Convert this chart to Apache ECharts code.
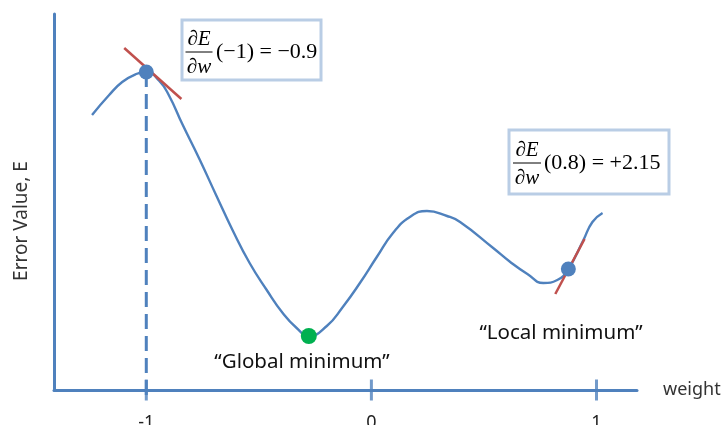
<!DOCTYPE html>
<html>
<head>
<meta charset="utf-8">
<script src="https://cdn.jsdelivr.net/npm/echarts@6/dist/echarts.min.js"></script>
<style>
  html, body { margin: 0; padding: 0; background: #fff; }
</style>
</head>
<body>
<div id="main" style="width:725px;height:425px;"></div>
<script>
// error curve E(w)
var curve = [
  [-1.241, 2.75], [-1.165, 2.95], [-1.107, 3.08], [-1.045, 3.16], [-1.000, 3.18],
  [-0.942, 3.09], [-0.898, 2.94], [-0.840, 2.66], [-0.764, 2.31], [-0.688, 1.94],
  [-0.617, 1.60], [-0.541, 1.27], [-0.465, 1.00], [-0.394, 0.77], [-0.332, 0.62],
  [-0.278, 0.54], [-0.198, 0.64], [-0.127, 0.83], [-0.051, 1.07], [0.024, 1.33],
  [0.096, 1.57], [0.171, 1.73], [0.247, 1.79], [0.336, 1.74], [0.394, 1.68],
  [0.541, 1.42], [0.617, 1.28], [0.693, 1.16], [0.764, 1.07], [0.826, 1.10],
  [0.875, 1.21], [0.942, 1.50], [0.982, 1.68], [1.027, 1.77]
];
var gradPoints = [[-1.0, 3.18], [0.875, 1.21]];
var globalMin = [[-0.278, 0.54]];
var tangent1 = [[-1.098, 3.42], [-0.844, 2.91]];
var tangent2 = [[0.817, 0.96], [0.947, 1.51]];
var dropLine = [[-1.0, 3.18], [-1.0, -0.12]];
var tickValues = [-1, 0, 1];

var blue = '#4f81bd';
var red = '#c0504d';
var boxStroke = '#b9cde5';
var serif = '"Liberation Serif", "DejaVu Serif", serif';
var sans = '"Noto Sans", "DejaVu Sans", sans-serif';

var myChart = echarts.init(document.getElementById('main'));

// small helper for the derivative boxes
function fracBox(x, y, w, h, cx, barY, barW, restX, rest) {
  return {
    type: 'group',
    children: [
      { type: 'rect', shape: { x: x, y: y, width: w, height: h },
        style: { fill: '#fff', stroke: boxStroke, lineWidth: 3 }, z: 10 },
      { type: 'text', x: cx, y: barY - 13, z: 11,
        style: { text: '∂{i|E}', font: '21px ' + serif, fill: '#000', align: 'center', verticalAlign: 'middle',
          rich: { i: { fontStyle: 'italic', fontFamily: serif, fontSize: 21 } } } },
      { type: 'line', shape: { x1: cx - barW / 2, y1: barY, x2: cx + barW / 2, y2: barY },
        style: { stroke: '#000', lineWidth: 1 }, z: 11 },
      { type: 'text', x: cx, y: barY + 15, z: 11,
        style: { text: '∂{i|w}', font: '21px ' + serif, fill: '#000', align: 'center', verticalAlign: 'middle',
          rich: { i: { fontStyle: 'italic', fontFamily: serif, fontSize: 21 } } } },
      { type: 'text', x: restX, y: barY, z: 11,
        style: { text: rest, font: '22px ' + serif, fill: '#000', align: 'left', verticalAlign: 'middle' } }
    ]
  };
}

var option = {
  animation: false,
  grid: { left: 54, right: 88, top: 14, bottom: 35, containLabel: false, outerBoundsMode: 'none' },
  xAxis: {
    type: 'value',
    min: -1.41,
    max: 1.18,
    name: 'weight',
    nameLocation: 'end',
    nameGap: 26,
    nameTextStyle: { fontFamily: sans, fontSize: 18, color: '#333' },
    axisLine: { show: true, onZero: false, lineStyle: { color: blue, width: 3 } },
    axisTick: { show: false },
    splitLine: { show: false },
    axisLabel: {
      customValues: tickValues,
      margin: 24,
      fontFamily: sans,
      fontSize: 18,
      color: '#222',
      formatter: function (v) { return v < 0 ? '-' + Math.abs(v) : String(v); }
    }
  },
  yAxis: {
    type: 'value',
    min: 0,
    max: 3.76,
    axisLine: { show: true, onZero: false, lineStyle: { color: blue, width: 3 } },
    axisTick: { show: false },
    axisLabel: { show: false },
    splitLine: { show: false }
  },
  series: [
    {
      type: 'line', data: dropLine, showSymbol: false, clip: false, z: 1,
      lineStyle: { color: blue, width: 3, type: [15, 7] }
    },
    {
      type: 'scatter', data: tickValues.map(function (v) { return [v, 0]; }),
      symbol: 'rect', symbolSize: [3, 21], clip: false, z: 2,
      itemStyle: { color: blue }
    },
    {
      type: 'line', data: curve, smooth: true, showSymbol: false, z: 3,
      lineStyle: { color: blue, width: 2.4 }
    },
    {
      type: 'line', data: tangent1, showSymbol: false, z: 4,
      lineStyle: { color: red, width: 2.5 }
    },
    {
      type: 'line', data: tangent2, showSymbol: false, z: 4,
      lineStyle: { color: red, width: 2.5 }
    },
    {
      type: 'scatter', data: gradPoints, symbolSize: 15, z: 5,
      itemStyle: { color: blue, opacity: 1 }
    },
    {
      type: 'scatter', data: globalMin, symbolSize: 16, z: 5,
      itemStyle: { color: '#00b050', opacity: 1 }
    }
  ],
  graphic: [
    { type: 'text', x: 22, y: 221, rotation: Math.PI / 2,
      style: { text: 'Error Value, E', font: '19px ' + sans, fill: '#333', align: 'center', verticalAlign: 'middle' } },
    { type: 'text', x: 302, y: 362,
      style: { text: '\u201cGlobal minimum\u201d', font: '20.5px ' + sans, fill: '#111', align: 'center', verticalAlign: 'middle' } },
    { type: 'text', x: 561, y: 333,
      style: { text: '\u201cLocal minimum\u201d', font: '20.5px ' + sans, fill: '#111', align: 'center', verticalAlign: 'middle' } },
    fracBox(182, 20, 139, 60, 199, 52, 27, 216, '(\u22121) = \u22120.9'),
    fracBox(509, 130, 160, 64, 527, 163, 28, 544, '(0.8) = +2.15')
  ]
};
myChart.setOption(option);
</script>
</body>
</html>
